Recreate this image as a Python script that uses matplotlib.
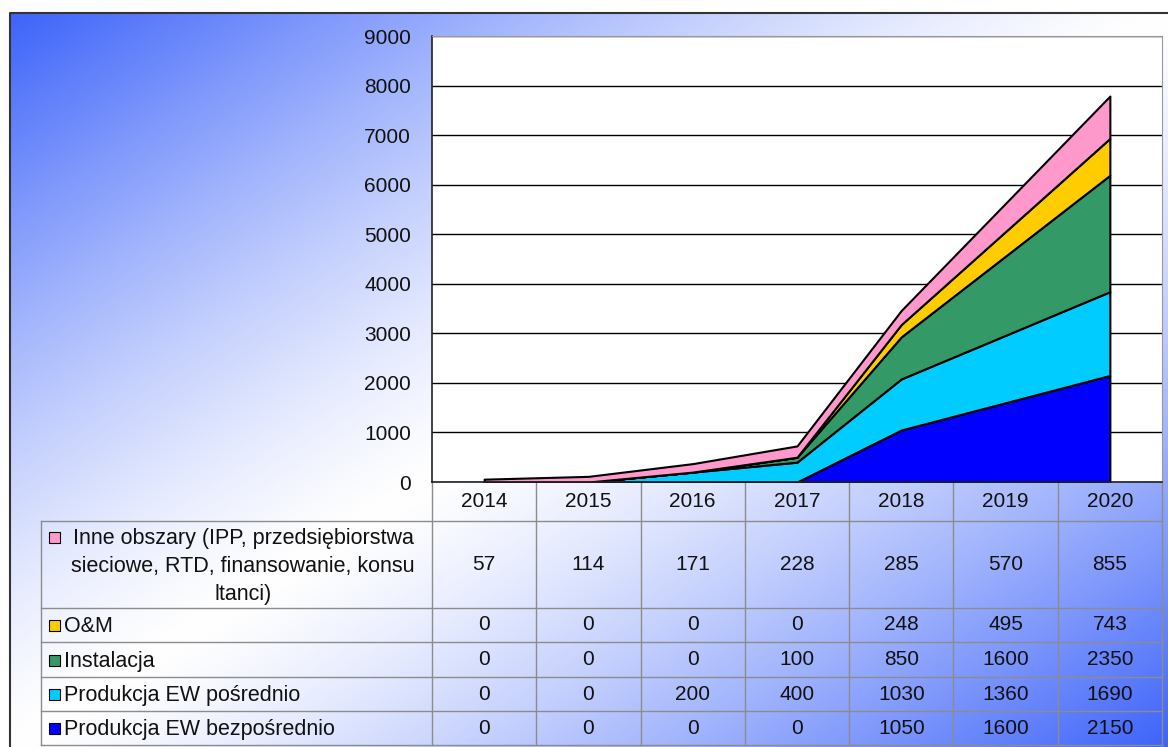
import matplotlib.pyplot as plt
import numpy as np
from matplotlib.patches import Rectangle

plt.rcParams['font.family'] = ['Liberation Sans', 'DejaVu Sans']

# dane
lata = ['2014', '2015', '2016', '2017', '2018', '2019', '2020']
bezposrednio = [0, 0, 0, 0, 1050, 1600, 2150]
posrednio = [0, 0, 200, 400, 1030, 1360, 1690]
instalacja = [0, 0, 0, 100, 850, 1600, 2350]
om = [0, 0, 0, 0, 248, 495, 743]
inne = [57, 114, 171, 228, 285, 570, 855]

etykiety = ['Inne obszary (IPP, przedsiębiorstwa\nsieciowe, RTD, finansowanie, konsu\nltanci)',
            'O&M', 'Instalacja', 'Produkcja EW pośrednio', 'Produkcja EW bezpośrednio']
kolory = ['#ff99cc', '#ffcc00', '#339966', '#00ccff', '#0000ff']
tekst = '#111111'

W, H = 1168, 747
fig = plt.figure(figsize=(W / 100, H / 100), dpi=100)

# tło w pikselach (gradient + tabela)
bg = fig.add_axes([0, 0, 1, 1])
bg.set_xlim(0, W)
bg.set_ylim(H, 0)
bg.axis('off')

gx, gy = np.meshgrid(np.linspace(0, 1, 400), np.linspace(0, 1, 260))
t = np.abs(gx + gy - 1.0) ** 1.3
niebieski = np.array([0.24, 0.39, 0.98])
img = 1 - t[..., None] * (1 - niebieski)
bg.imshow(img, extent=(10, W, H, 13), aspect='auto', interpolation='bilinear')
bg.plot([10, 10, W], [H, 13, 13], color='#333333', lw=1.5)

# wykres warstwowy
pl, pr, pt, pb = 432, 1162, 36, 482
ax = fig.add_axes([pl / W, 1 - pb / H, (pr - pl) / W, (pb - pt) / H])
x = np.arange(len(lata))
ax.stackplot(x, bezposrednio, posrednio, instalacja, om, inne,
             colors=kolory[::-1], edgecolor='black', linewidth=1.5)
ax.set_xlim(-0.5, len(lata) - 0.5)
ax.set_ylim(0, 9000)
ax.set_yticks(range(0, 9001, 1000))
ax.set_xticks([])
ax.tick_params(axis='y', length=0, pad=15, labelsize=15, labelcolor=tekst)
ax.grid(axis='y', color='black', linewidth=1)
ax.set_axisbelow(True)
ax.set_facecolor('white')
for s in ['top', 'right']:
    ax.spines[s].set_color('#999999')
for s in ['left', 'bottom']:
    ax.spines[s].set_color('#222222')
    ax.spines[s].set_linewidth(1.2)

# tabela danych
szer = (pr - pl) / len(lata)
wiersze = [482, 521, 608, 642, 677, 711, 745]
tl = 41
linia = dict(color='#8c8c8c', lw=1)
for i in range(len(lata) + 1):
    bg.plot([pl + i * szer] * 2, [wiersze[0], wiersze[-1]], **linia)
bg.plot([tl, tl], [wiersze[1], wiersze[-1]], **linia)
for yl in wiersze[1:]:
    bg.plot([tl, pr], [yl, yl], **linia)

for i, rok in enumerate(lata):
    bg.text(pl + (i + 0.5) * szer, (wiersze[0] + wiersze[1]) / 2, rok,
            ha='center', va='center', fontsize=15, color=tekst)

serie = [inne, om, instalacja, posrednio, bezposrednio]
for r, (lab, kol, wart) in enumerate(zip(etykiety, kolory, serie)):
    y0, y1 = wiersze[r + 1], wiersze[r + 2]
    yc = (y0 + y1) / 2
    if r == 0:
        bg.add_patch(Rectangle((49, 532), 11, 11, facecolor=kol, edgecolor='black', lw=0.8))
        bg.text(243, yc + 2, lab, ha='center', va='center', multialignment='center',
                fontsize=15.5, color=tekst, linespacing=1.42)
    else:
        bg.add_patch(Rectangle((49, yc - 5), 11, 11, facecolor=kol, edgecolor='black', lw=0.8))
        bg.text(64, yc + 2, lab, ha='left', va='center', fontsize=15.5, color=tekst)
    for i, v in enumerate(wart):
        bg.text(pl + (i + 0.5) * szer, yc, str(v), ha='center', va='center',
                fontsize=15, color=tekst)

fig.savefig('out.png', dpi=100)
